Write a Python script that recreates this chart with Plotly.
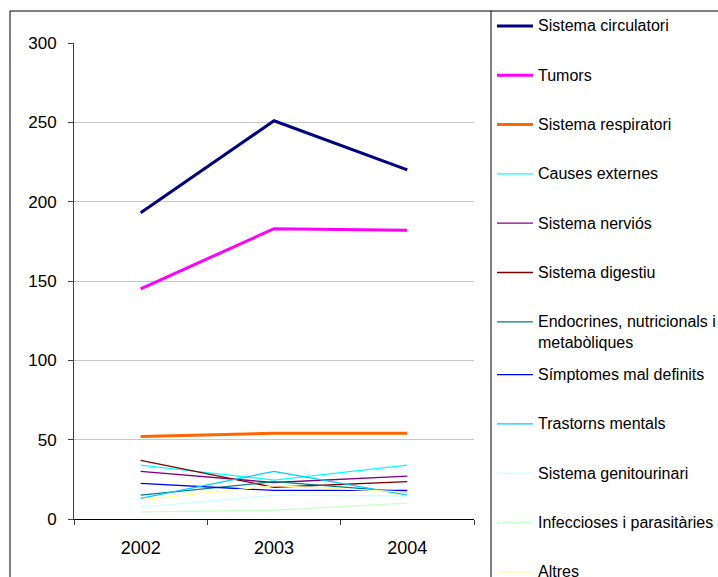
import plotly.graph_objects as go

# Data
years = ["2002", "2003", "2004"]

circulatori = [193, 251, 220]
tumors = [145, 183, 182]
respiratori = [52, 54, 54]
externes = [34, 24.5, 34]
nervios = [30, 23, 27]
digestiu = [37, 20, 23.5]
endocrines = [15, 23.5, 17]
simptomes = [22.5, 18, 18]
mentals = [13, 30, 15]
genitourinari = [7.5, 15, 14.5]
infeccioses = [4.5, 5.5, 10]
altres = [12, 21, 17]

names = [
    "Sistema circulatori", "Tumors", "Sistema respiratori", "Causes externes",
    "Sistema nerviós", "Sistema digestiu", "Endocrines, nutricionals i<br>metabòliques",
    "Símptomes mal definits", "Trastorns mentals", "Sistema genitourinari",
    "Infeccioses i parasitàries", "Altres",
]
series = [circulatori, tumors, respiratori, externes, nervios, digestiu,
          endocrines, simptomes, mentals, genitourinari, infeccioses, altres]
colors = ["#000080", "#FF00FF", "#FF6600", "#00FFFF", "#800080", "#800000",
          "#008080", "#0000FF", "#00CCFF", "#CCFFFF", "#CCFFCC", "#FFFF99"]
widths = [3, 3, 3] + [1.3] * 9

FONT = "Liberation Sans, Arial, sans-serif"
W, H = 718, 577
L, R, T, B = 74, 244, 43, 58
PW, PH = W - L - R, H - T - B


def px_x(x):
    return (x - L) / PW


def px_y(y):
    return (H - B - y) / PH


fig = go.Figure()
for name, vals, col, w in zip(names, series, colors, widths):
    fig.add_trace(go.Scatter(x=years, y=vals, mode="lines", name=name,
                             line=dict(color=col, width=w), showlegend=False))

shapes = []
annotations = []
# chart border + legend box
shapes.append(dict(type="rect", xref="paper", yref="paper",
                   x0=px_x(10), x1=px_x(1000), y0=px_y(1000), y1=px_y(11),
                   line=dict(color="black", width=1)))
shapes.append(dict(type="line", xref="paper", yref="paper",
                   x0=px_x(491), x1=px_x(491), y0=px_y(1000), y1=px_y(11),
                   line=dict(color="black", width=1)))

# hand-drawn legend, like the cut-off Excel legend box
for i, (name, col, w) in enumerate(zip(names, colors, widths)):
    yc = 26 + 49.3 * i + (3.5 if i >= 7 else 0)
    shapes.append(dict(type="line", xref="paper", yref="paper",
                       x0=px_x(497), x1=px_x(533), y0=px_y(yc), y1=px_y(yc),
                       line=dict(color=col, width=w)))
    two_lines = "<br>" in name
    annotations.append(dict(
        x=px_x(536), y=px_y(yc - 11) if two_lines else px_y(yc),
        xref="paper", yref="paper", text=name, showarrow=False,
        xanchor="left", yanchor="top" if two_lines else "middle", align="left",
        font=dict(family=FONT, size=16, color="black")))

fig.update_layout(
    width=W, height=H,
    margin=dict(l=L, r=R, t=T, b=B, pad=0),
    paper_bgcolor="white", plot_bgcolor="white",
    font=dict(family=FONT, size=16, color="black"),
    shapes=shapes, annotations=annotations,
    showlegend=False,
)
fig.update_xaxes(
    type="category", range=[-0.5, 2.5], tickson="boundaries",
    ticks="outside", ticklen=5, tickcolor="#404040",
    showline=True, linecolor="black", linewidth=1,
    showgrid=False, ticklabelstandoff=12,
    tickfont=dict(family=FONT, size=18, color="black"),
)
fig.update_yaxes(
    range=[0, 300], tickvals=[0, 50, 100, 150, 200, 250, 300],
    ticks="outside", ticklen=5, tickcolor="#404040",
    showline=True, linecolor="#404040", linewidth=1,
    showgrid=True, gridcolor="#C8C8C8", gridwidth=1, zeroline=False,
    ticklabelstandoff=8,
    tickfont=dict(family=FONT, size=17, color="black"),
)

# drop the default 8px body margin so the figure sits at the page corner
fig.write_html("out.html", config={"displayModeBar": False},
               post_script="document.body.style.margin='0';")
